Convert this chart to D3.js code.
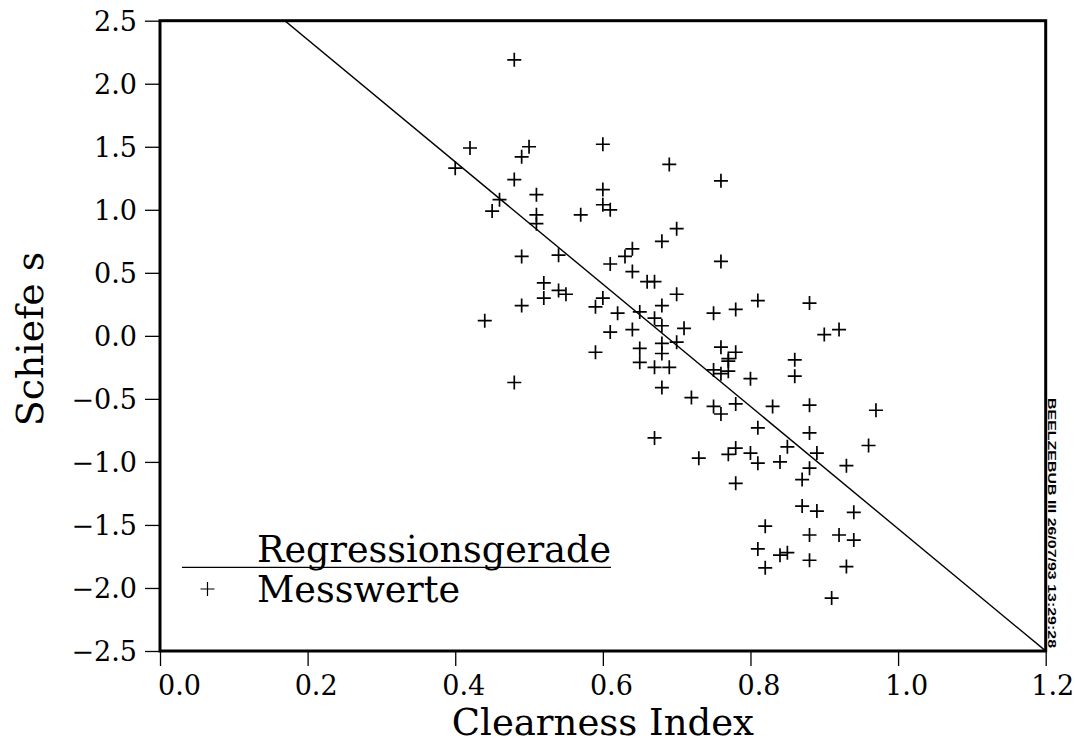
<!DOCTYPE html>
<html>
<head>
<meta charset="utf-8">
<script src="https://cdn.jsdelivr.net/npm/d3@7"></script>
<style>
  body { margin: 0; background: #fff; }
  svg { display: block; }
  text { font-family: "DejaVu Serif", serif; fill: #000; }
</style>
</head>
<body>
<svg id="chart" width="1075" height="743"></svg>
<script>
// Measured clearness index and skewness of each sample
const clearness = [
  0.48, 0.42, 0.50, 0.49, 0.40, 0.48, 0.46, 0.45, 0.51, 0.51,
  0.51, 0.60, 0.69, 0.76, 0.60, 0.60, 0.61, 0.57, 0.70, 0.68,
  0.64, 0.63, 0.61, 0.64, 0.66, 0.67, 0.76, 0.70, 0.55, 0.60,
  0.59, 0.62, 0.65, 0.68, 0.75, 0.78, 0.81, 0.67, 0.68, 0.71,
  0.64, 0.61, 0.70, 0.65, 0.68, 0.68, 0.59, 0.76, 0.78, 0.77,
  0.77, 0.77, 0.65, 0.67, 0.69, 0.75, 0.76, 0.80, 0.68, 0.72,
  0.75, 0.76, 0.78, 0.81, 0.67, 0.73, 0.77, 0.78, 0.80, 0.81,
  0.78, 0.49, 0.54, 0.52, 0.52, 0.54, 0.49, 0.44, 0.48, 0.88,
  0.90, 0.92, 0.86, 0.86, 0.83, 0.88, 0.97, 0.88, 0.85, 0.89,
  0.96, 0.84, 0.88, 0.93, 0.87, 0.87, 0.89, 0.94, 0.82, 0.88,
  0.92, 0.94, 0.81, 0.84, 0.85, 0.88, 0.93, 0.82, 0.91
];
const skewness = [
  2.19, 1.49, 1.50, 1.42, 1.33, 1.24, 1.08, 0.99, 1.12, 0.96,
  0.89, 1.52, 1.36, 1.23, 1.16, 1.04, 1.00, 0.96, 0.85, 0.75,
  0.69, 0.63, 0.57, 0.51, 0.43, 0.43, 0.59, 0.33, 0.33, 0.30,
  0.23, 0.18, 0.19, 0.24, 0.18, 0.21, 0.28, 0.14, 0.08, 0.06,
  0.05, 0.03, -0.05, -0.10, -0.06, -0.14, -0.13, -0.09, -0.13, -0.18,
  -0.20, -0.28, -0.21, -0.25, -0.25, -0.27, -0.30, -0.34, -0.41, -0.49,
  -0.56, -0.62, -0.54, -0.73, -0.81, -0.97, -0.94, -0.89, -0.93, -1.01,
  -1.17, 0.63, 0.64, 0.42, 0.30, 0.36, 0.24, 0.12, -0.37, 0.26,
  0.01, 0.05, -0.19, -0.32, -0.56, -0.55, -0.59, -0.77, -0.88, -0.93,
  -0.87, -1.00, -1.05, -1.03, -1.14, -1.35, -1.39, -1.40, -1.51, -1.58,
  -1.58, -1.62, -1.69, -1.74, -1.72, -1.78, -1.83, -1.84, -2.08
];

// Fitted regression line: s = intercept + slope * k
const regIntercept = 3.32;
const regSlope = -4.85;

const xTicks = [0.0, 0.2, 0.4, 0.6, 0.8, 1.0, 1.2];
const yTicks = [-2.5, -2.0, -1.5, -1.0, -0.5, 0.0, 0.5, 1.0, 1.5, 2.0, 2.5];
const xTitle = "Clearness Index";
const yTitle = "Schiefe s";
const legendLabels = ["Regressionsgerade", "Messwerte"];
const stamp = "BEELZEBUB III 26/07/93 13:29:28";

const svg = d3.select("#chart");
const plot = { left: 160, right: 1045.7, top: 20.7, bottom: 651 };

svg.append("rect").attr("width", 1075).attr("height", 743).attr("fill", "#fff");

const x = d3.scaleLinear().domain([0, 1.2]).range([plot.left, plot.right]);
const y = d3.scaleLinear().domain([-2.5, 2.5]).range([plot.bottom, plot.top]);
const fmt = d3.format(".1f");

// Bottom axis
const lastX = xTicks.length - 1;
const gx = svg.append("g")
  .attr("transform", `translate(0,${plot.bottom})`)
  .call(d3.axisBottom(x).tickValues(xTicks).tickFormat(fmt).tickSize(15).tickSizeOuter(0));
gx.select(".domain").remove();
gx.selectAll(".tick line").attr("stroke", "#000").attr("stroke-width", 1.3);
gx.selectAll(".tick text")
  .attr("font-family", "DejaVu Serif, serif")
  .attr("font-size", 27)
  .attr("fill", "#000")
  .attr("dy", null)
  .attr("y", 44)
  .attr("text-anchor", (d, i) => i === lastX ? "end" : "middle")
  .attr("x", (d, i) => i === 0 ? 19 : (i === lastX ? 28 : 8));

// Left axis
const gy = svg.append("g")
  .attr("transform", `translate(${plot.left},0)`)
  .call(d3.axisLeft(y).tickValues(yTicks).tickFormat(fmt).tickSize(15).tickSizeOuter(0));
gy.select(".domain").remove();
gy.selectAll(".tick line").attr("stroke", "#000").attr("stroke-width", 1.3);
gy.selectAll(".tick text")
  .attr("font-family", "DejaVu Serif, serif")
  .attr("font-size", 27)
  .attr("fill", "#000")
  .attr("text-anchor", "end")
  .attr("x", -23)
  .attr("dy", "0.36em");

// Plot clip region
svg.append("clipPath").attr("id", "plotClip")
  .append("rect")
  .attr("x", plot.left).attr("y", plot.top)
  .attr("width", plot.right - plot.left).attr("height", plot.bottom - plot.top);

// Regression line
const regLine = d3.line()
  .x(d => x(d))
  .y(d => y(regIntercept + regSlope * d));
svg.append("path")
  .attr("clip-path", "url(#plotClip)")
  .attr("d", regLine(x.domain()))
  .attr("fill", "none")
  .attr("stroke", "#000")
  .attr("stroke-width", 1.4);

// Measured points as crosses
const cross = "M-7,0H7M0,-7V7";
svg.append("g")
  .selectAll("path")
  .data(clearness.map((k, i) => [k, skewness[i]]))
  .join("path")
  .attr("transform", d => `translate(${x(d[0])},${y(d[1])})`)
  .attr("d", cross)
  .attr("fill", "none")
  .attr("stroke", "#000")
  .attr("stroke-width", 1.7);

// Frame
svg.append("rect")
  .attr("x", plot.left).attr("y", plot.top)
  .attr("width", plot.right - plot.left).attr("height", plot.bottom - plot.top)
  .attr("fill", "none")
  .attr("stroke", "#000")
  .attr("stroke-width", 3);

// Legend
const legend = svg.append("g");
legend.append("line")
  .attr("x1", 182).attr("x2", 611)
  .attr("y1", 567.3).attr("y2", 567.3)
  .attr("stroke", "#000").attr("stroke-width", 1.3);
legend.append("text")
  .attr("x", 257).attr("y", 562)
  .attr("font-size", 36.5)
  .text(legendLabels[0]);
legend.append("path")
  .attr("transform", "translate(207.5,589)")
  .attr("d", cross)
  .attr("fill", "none").attr("stroke", "#000").attr("stroke-width", 1.2);
legend.append("text")
  .attr("x", 257).attr("y", 601.7)
  .attr("font-size", 36.5)
  .text(legendLabels[1]);

// Axis titles
svg.append("text")
  .attr("x", (plot.left + plot.right) / 2).attr("y", 735)
  .attr("text-anchor", "middle")
  .attr("font-size", 37)
  .text(xTitle);
svg.append("text")
  .attr("transform", "translate(43,339) rotate(-90)")
  .attr("text-anchor", "middle")
  .attr("font-size", 38)
  .text(yTitle);

// Plot stamp along the right edge
svg.append("text")
  .attr("transform", "translate(1047.5,398) rotate(90)")
  .attr("font-weight", "bold")
  .attr("font-size", 11.5)
  .attr("textLength", 250)
  .attr("lengthAdjust", "spacingAndGlyphs")
  .style("font-family", "Liberation Sans, Arial, sans-serif")
  .text(stamp);
</script>
</body>
</html>
